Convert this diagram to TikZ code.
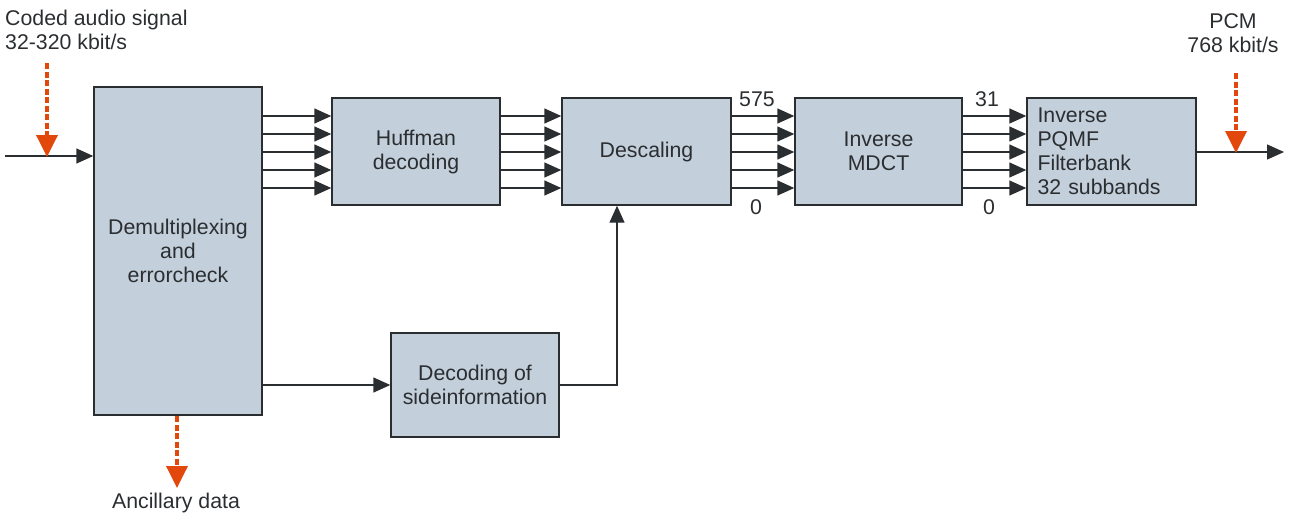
\documentclass[tikz,border=0pt]{standalone}
\usepackage{fontspec}
\setmainfont{Liberation Sans}
\usetikzlibrary{arrows.meta}
\definecolor{boxfill}{HTML}{C3CFDB}
\definecolor{ink}{HTML}{2B2E31}
\definecolor{sig}{HTML}{E2470C}
\begin{document}
\begin{tikzpicture}[x=1pt,y=-1pt,
  every node/.style={text=ink, font=\fontsize{21.3}{24}\selectfont},
  block/.style={draw=ink, line width=1.4pt, fill=boxfill, inner sep=0pt, align=center},
  arr/.style={draw=ink, line width=1.4pt, -{Triangle[length=17pt,width=15pt]}},
  flow/.style={draw=sig, line width=3.6pt, dash pattern=on 6pt off 2.5pt,
    -{Triangle[length=22pt,width=21pt,fill=sig]}, shorten >=-1pt},
  lbl/.style={inner sep=0pt}]
\useasboundingbox (0,0) rectangle (1293,515);

% processing blocks
\node[block, minimum width=168pt, minimum height=328pt] (demux) at (178,251)
  {Demultiplexing\\and\\errorcheck};
\node[block, minimum width=168pt, minimum height=107pt] (huff) at (416,151.5)
  {Huffman\\decoding};
\node[block, minimum width=169pt, minimum height=107pt] (desc) at (646.5,151.5)
  {Descaling};
\node[block, minimum width=167pt, minimum height=107pt] (mdct) at (878.5,151.5)
  {Inverse\\MDCT};
\node[block, minimum width=169pt, minimum height=107pt, align=left,
  text width=148pt] (pqmf) at (1111.5,151.5)
  {Inverse\\PQMF\\Filterbank\\32 subbands};
\node[block, minimum width=168pt, minimum height=104pt] (side) at (475,385)
  {Decoding of\\sideinformation};

% parallel data paths between the blocks
\foreach \y in {116,134,152,170,188} {
  \draw[arr] (demux.east |- 0,\y) -- (huff.west |- 0,\y);
  \draw[arr] (huff.east |- 0,\y) -- (desc.west |- 0,\y);
  \draw[arr] (desc.east |- 0,\y) -- (mdct.west |- 0,\y);
  \draw[arr] (mdct.east |- 0,\y) -- (pqmf.west |- 0,\y);
}

% index labels of the coefficient and subband lines
\node[lbl] (hi1) at (757,99) {575};
\node[lbl] (lo1) at (756,207) {0};
\node[lbl] (hi2) at (987,99) {31};
\node[lbl] (lo2) at (989,207) {0};

% side information path
\draw[arr] (demux.east |- side.west) -- (side.west);
\coordinate (bend) at (617,385);
\draw[arr] (side.east) -- (bend) -- (bend |- desc.south);

% input and output signals
\coordinate (inL) at (5,156);
\draw[arr] (inL) -- (demux.west |- inL);
\coordinate (outR) at (1284,152);
\draw[arr] (pqmf.east |- outR) -- (outR);

\node[lbl, anchor=west, align=left] (intxt) at (5,29.5)
  {Coded audio signal\\32-320 kbit/s};
\node[lbl, align=center] (outtxt) at (1233,33.5)
  {PCM\\768 kbit/s};
\node[lbl] (anc) at (176,503) {Ancillary data};

% bitstream / PCM / ancillary flow markers
\coordinate (f1a) at (47,63);
\coordinate (f1b) at (47,156);
\draw[flow] (f1a) -- (f1b);
\coordinate (f2a) at (1236,73);
\coordinate (f2b) at (1236,152);
\draw[flow] (f2a) -- (f2b);
\coordinate (f3a) at (177,416);
\coordinate (f3b) at (177,487);
\draw[flow] (f3a) -- (f3b);
\end{tikzpicture}
\end{document}
